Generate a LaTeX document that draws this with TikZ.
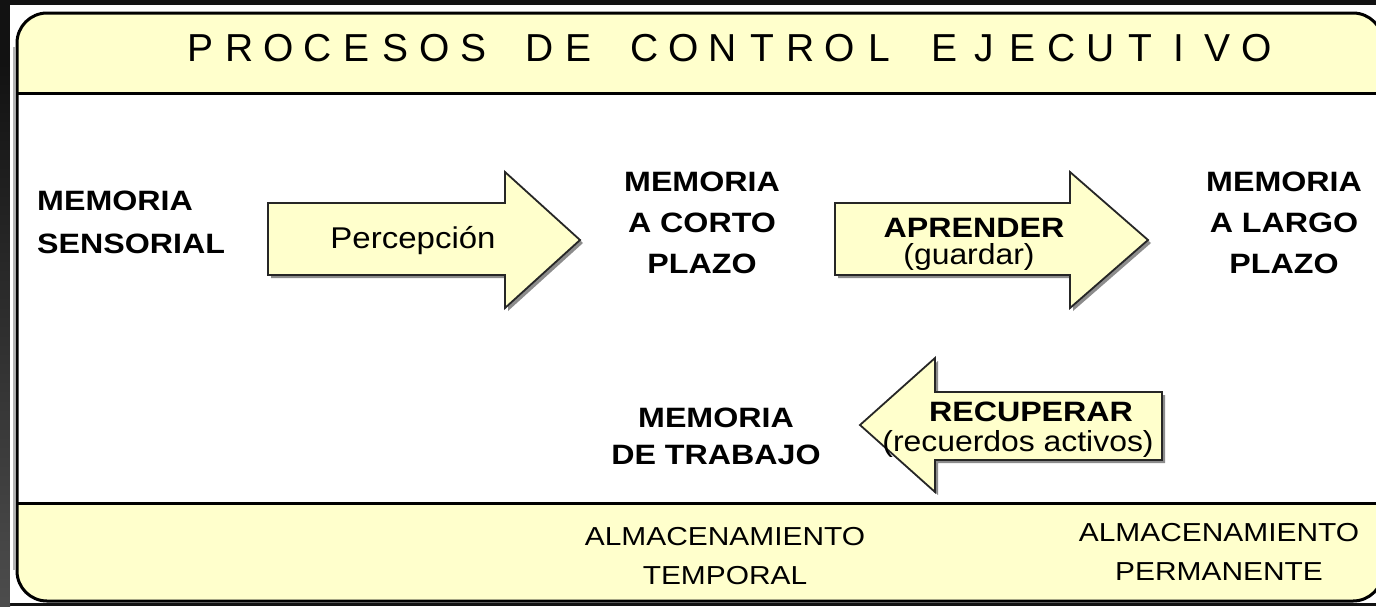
\documentclass[tikz,border=0pt]{standalone}
\usepackage{fontspec}
\setmainfont{Liberation Sans}
\newfontfamily\labfont[FakeStretch=1.15]{Liberation Sans}
\newfontfamily\regfont[FakeStretch=1.1]{Liberation Sans}
\definecolor{cream}{HTML}{FFFFCC}
\newcommand\tlet[1]{\makebox[39pt]{#1}}
\newcommand\tgap{\hspace{27pt}}
\tikzset{
  arrowbody/.style={fill=cream, draw=black!85, line width=1.8pt, line join=miter},
  arrowshadow/.style={fill=black!45},
  boldlab/.style={inner sep=0pt, align=center, font=\labfont\bfseries\fontsize{28}{41}\selectfont},
  sublab/.style={inner sep=0pt, align=center, font=\regfont\fontsize{29}{32}\selectfont},
  footlab/.style={inner sep=0pt, align=center, font=\labfont\fontsize{26}{39}\selectfont},
}
\begin{document}
\begin{tikzpicture}[x=1pt,y=-1pt]
\useasboundingbox (0,0) rectangle (1376,606);
\clip (0,0) rectangle (1376,606);
% page background
\fill[black!93] (0,0) rectangle (1376,606);
\shade[top color=black!93, bottom color=black!70] (0,60) rectangle (10,606);
\fill[white] (10,5) rectangle (1376,603);
\draw[black!30, line width=2pt] (14,47) -- (14,570);
% frame
\begin{scope}
  \clip[rounded corners=30pt] (17,13) rectangle (1383,601);
  \fill[cream] (0,0) rectangle (1400,93);
  \fill[white] (0,93) rectangle (1400,503);
  \fill[cream] (0,503) rectangle (1400,606);
\end{scope}
\draw[line width=3pt, rounded corners=30pt] (17,13) rectangle (1383,601);
\draw[line width=3pt] (17,93) -- (1383,93);
\draw[line width=3pt] (17,503) -- (1383,503);
% title
\node[inner sep=0pt, font=\fontsize{39}{42}\selectfont] (title) at (729,48)
  {\tlet P\tlet R\tlet O\tlet C\tlet E\tlet S\tlet O\tlet S\tgap\tlet D\tlet E\tgap\tlet C\tlet O\tlet N\tlet T\tlet R\tlet O\tlet L\tgap\tlet E\tlet J\tlet E\tlet C\tlet U\tlet T\tlet I\tlet V\tlet O};
% arrow 1 (Percepcion)
\fill[arrowshadow] (271,206) -- (508,206) -- (508,175) -- (583,243) -- (508,311) -- (508,278) -- (271,278) -- cycle;
\draw[arrowbody] (268,203) -- (505,203) -- (505,172) -- (580,240) -- (505,308) -- (505,275) -- (268,275) -- cycle;
% arrow 2 (Aprender)
\fill[arrowshadow] (838,206) -- (1073,206) -- (1073,175) -- (1151,243) -- (1073,311) -- (1073,278) -- (838,278) -- cycle;
\draw[arrowbody] (835,203) -- (1070,203) -- (1070,172) -- (1148,240) -- (1070,308) -- (1070,275) -- (835,275) -- cycle;
% arrow 3 (Recuperar)
\fill[arrowshadow] (1165,395) -- (938,395) -- (938,361) -- (863,428) -- (938,495) -- (938,463) -- (1165,463) -- cycle;
\draw[arrowbody] (1162,392) -- (935,392) -- (935,358) -- (860,425) -- (935,492) -- (935,460) -- (1162,460) -- cycle;
% labels
\node[boldlab, anchor=west, align=left, font=\labfont\bfseries\fontsize{28}{43}\selectfont] (msens) at (37,222) {MEMORIA\\SENSORIAL};
\node[inner sep=0pt, font=\regfont\fontsize{30}{32}\selectfont] (percep) at (413,241) {Percepción};
\node[boldlab] (mcorto) at (702,223) {MEMORIA\\A CORTO\\PLAZO};
\node[boldlab] (aprender) at (974,228) {APRENDER};
\node[sublab] (guardar) at (969,257) {(guardar)};
\node[boldlab] (mlargo) at (1284,223) {MEMORIA\\A LARGO\\PLAZO};
\node[boldlab] (recuperar) at (1031,412) {RECUPERAR};
\node[sublab] (recuerdos) at (1018,444) {(recuerdos activos)};
\node[boldlab, font=\labfont\bfseries\fontsize{28}{37}\selectfont] (mtrabajo) at (716,436) {MEMORIA\\DE TRABAJO};
\node[footlab] (atemp) at (725,556) {ALMACENAMIENTO\\TEMPORAL};
\node[footlab] (aperm) at (1219,552) {ALMACENAMIENTO\\PERMANENTE};
\end{tikzpicture}
\end{document}
